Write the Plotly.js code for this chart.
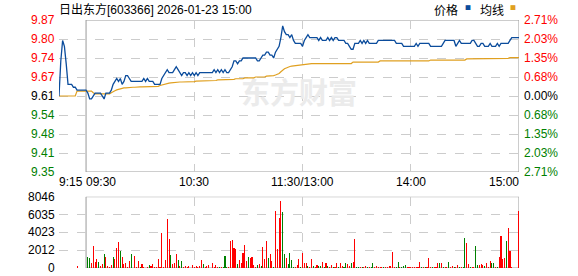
<!DOCTYPE html>
<html><head><meta charset="utf-8">
<script src="https://cdn.plot.ly/plotly-3.0.1.min.js"></script>
<style>html,body{margin:0;padding:0;background:#fff;}#chart{width:578px;height:276px;}</style>
</head><body><div id="chart"></div>
<script>
// ---------- data ----------
const stockTitle = '日出东方[603366] 2026-01-23 15:00';
const legendNames = ['价格', '均线'];
const prevClose = 9.61;

// call auction 09:15 .. 09:29
const prePrice = [9.61,9.73,9.80,9.78,9.72,9.65,9.65,9.65,9.64,9.64,9.63,9.63,9.63,9.63,9.63];
const preAvg   = [9.61,9.61,9.61,9.61,9.61,9.61,9.61,9.61,9.61,9.61,9.627,9.627,9.627,9.627,9.627];
const auctionTime = '09:25';
const auctionVolume = 250;

// continuous session 09:30 .. 11:30, 13:01 .. 15:00 (241 points)
const price = [
9.63,9.62,9.60,9.60,9.61,9.62,9.62,9.62,9.62,9.61,
9.60,9.62,9.62,9.62,9.63,9.65,9.66,9.67,9.66,9.67,
9.65,9.66,9.68,9.68,9.67,9.66,9.66,9.66,9.66,9.66,
9.66,9.66,9.67,9.66,9.67,9.66,9.66,9.66,9.65,9.65,
9.65,9.65,9.67,9.68,9.69,9.70,9.69,9.69,9.69,9.70,
9.71,9.70,9.69,9.68,9.69,9.69,9.68,9.69,9.68,9.69,
9.68,9.69,9.68,9.69,9.69,9.69,9.69,9.69,9.69,9.69,
9.69,9.70,9.69,9.70,9.69,9.70,9.69,9.70,9.69,9.69,
9.70,9.71,9.73,9.73,9.72,9.73,9.73,9.74,9.74,9.74,
9.74,9.74,9.74,9.74,9.74,9.73,9.73,9.74,9.75,9.75,
9.76,9.76,9.75,9.75,9.74,9.76,9.77,9.78,9.81,9.85,
9.83,9.82,9.82,9.81,9.82,9.80,9.79,9.79,9.79,9.79,
9.78,9.80,9.81,9.82,9.81,9.81,9.81,9.81,9.81,9.80,
9.81,9.80,9.80,9.80,9.81,9.80,9.81,9.80,9.81,9.81,
9.80,9.80,9.80,9.80,9.79,9.79,9.78,9.77,9.77,9.79,
9.79,9.79,9.80,9.79,9.80,9.79,9.80,9.79,9.79,9.79,
9.79,9.79,9.80,9.80,9.80,9.80,9.80,9.80,9.80,9.80,
9.80,9.80,9.79,9.79,9.79,9.79,9.78,9.78,9.78,9.78,
9.78,9.78,9.78,9.79,9.78,9.79,9.79,9.79,9.79,9.79,
9.79,9.78,9.78,9.78,9.78,9.78,9.78,9.78,9.79,9.80,
9.80,9.80,9.80,9.80,9.80,9.78,9.79,9.80,9.79,9.79,
9.79,9.79,9.79,9.79,9.80,9.80,9.79,9.78,9.78,9.79,
9.79,9.78,9.78,9.78,9.79,9.78,9.78,9.78,9.79,9.78,
9.79,9.79,9.79,9.79,9.79,9.80,9.81,9.81,9.81,9.81,
9.81];

const avgPrice = [
9.627,9.627,9.627,9.627,9.621,9.617,9.617,9.617,9.617,9.617,
9.617,9.617,9.617,9.617,9.621,9.626,9.628,9.631,9.633,9.636,
9.637,9.638,9.638,9.639,9.640,9.640,9.640,9.640,9.641,9.641,
9.641,9.641,9.641,9.641,9.642,9.642,9.642,9.642,9.643,9.643,
9.643,9.646,9.648,9.650,9.652,9.653,9.654,9.655,9.656,9.657,
9.658,9.658,9.658,9.658,9.658,9.658,9.659,9.659,9.659,9.659,
9.659,9.661,9.661,9.661,9.661,9.661,9.661,9.663,9.663,9.663,
9.663,9.663,9.663,9.665,9.665,9.665,9.665,9.665,9.665,9.667,
9.667,9.667,9.667,9.669,9.669,9.669,9.669,9.669,9.672,9.672,
9.672,9.672,9.672,9.672,9.675,9.675,9.675,9.675,9.675,9.675,
9.678,9.678,9.678,9.678,9.680,9.682,9.684,9.687,9.693,9.699,
9.703,9.706,9.709,9.711,9.712,9.713,9.714,9.715,9.716,9.717,
9.717,9.719,9.720,9.721,9.721,9.721,9.721,9.721,9.721,9.721,
9.721,9.721,9.721,9.721,9.721,9.721,9.721,9.721,9.721,9.721,
9.721,9.721,9.721,9.721,9.721,9.721,9.721,9.721,9.726,9.726,
9.726,9.726,9.726,9.726,9.726,9.726,9.726,9.726,9.726,9.726,
9.726,9.726,9.726,9.730,9.730,9.730,9.730,9.730,9.730,9.730,
9.730,9.730,9.730,9.730,9.730,9.730,9.730,9.730,9.730,9.730,
9.730,9.730,9.730,9.730,9.730,9.730,9.730,9.730,9.730,9.730,
9.730,9.733,9.733,9.733,9.733,9.733,9.733,9.733,9.733,9.733,
9.733,9.733,9.733,9.733,9.733,9.733,9.733,9.733,9.733,9.733,
9.733,9.737,9.737,9.737,9.737,9.737,9.737,9.737,9.737,9.737,
9.737,9.737,9.737,9.737,9.737,9.737,9.739,9.739,9.739,9.739,
9.739,9.739,9.739,9.739,9.739,9.741,9.741,9.741,9.741,9.741,
9.741];

// volume per minute 09:31 .. 15:00 (240 bars)
const volume = [
1280,1150,600,2500,700,1050,700,260,490,1620,
1280,260,150,380,1280,1050,2300,2980,1960,1280,
490,600,75,830,1620,40,1400,150,830,150,
490,75,40,75,380,260,490,75,75,1050,
150,3900,75,940,5570,3300,1500,490,600,1620,
940,260,830,150,260,75,260,40,380,75,
260,150,260,940,490,150,260,380,40,600,
150,380,150,75,75,75,1400,75,150,3100,
3200,2300,2200,490,940,600,1730,2600,830,1280,
1150,1280,380,75,380,490,260,2400,1050,3100,
1150,1620,830,150,6480,2200,5690,7600,6370,1620,
1150,490,1730,940,150,150,380,1050,150,1730,
600,600,260,75,1050,260,150,380,260,260,
700,150,600,260,75,380,150,75,600,75,
600,260,150,600,490,260,600,700,3300,150,
75,150,75,75,260,75,75,75,600,150,
260,
75,75,75,75,75,150,260,260,1850,75,
150,700,75,150,260,380,150,75,75,75,
75,75,75,700,75,75,75,75,1150,75,
75,75,75,600,600,600,150,75,75,700,
75,260,75,75,380,75,75,75,3430,2780,
490,150,75,150,2500,380,380,490,380,260,
600,150,830,600,600,150,150,1280,3660,1050,
1150,3100,4560,1960,75,0,0,0,6480];
// 1 = price up (red), 0 = price down (green)
const rising = [
0,0,1,1,1,1,0,1,1,0,
1,1,1,1,0,1,1,1,0,1,
1,1,1,1,0,1,1,1,1,0,
1,1,0,1,0,1,1,1,1,1,
1,1,1,1,1,1,0,1,1,1,
0,1,0,1,1,1,1,0,1,1,
1,1,1,1,0,1,1,1,0,1,
1,1,1,0,1,0,0,0,1,1,
1,1,1,0,1,1,1,1,1,0,
1,1,1,1,0,1,0,1,1,1,
0,1,1,0,1,1,1,1,0,0,
1,0,0,0,0,1,1,1,0,1,
1,1,0,1,1,0,1,1,0,0,
1,0,1,0,1,1,0,1,1,0,
1,1,0,0,1,1,0,1,1,0,
0,1,0,1,1,0,1,0,0,1,
1,
1,1,1,0,1,1,1,1,1,1,
0,0,1,0,0,0,1,1,1,1,
1,1,1,1,0,1,0,1,1,1,
0,1,1,1,0,1,0,1,1,0,
1,1,0,1,1,0,1,0,0,1,
1,0,1,1,0,0,1,1,1,0,
1,1,1,0,0,1,0,1,1,1,
1,0,1,1,1,1,1,1,1];

const priceTickVals = [9.87,9.805,9.74,9.675,9.61,9.545,9.48,9.415,9.35];
const priceTickText = ['9.87','9.80','9.74','9.67','9.61','9.54','9.48','9.41','9.35'];
const pctTickText   = ['2.71%','2.03%','1.35%','0.68%','0.00%','0.68%','1.35%','2.03%','2.71%'];
const volTickVals = [0,2012,4023,6035,8046];
const volTickText = ['0','2012','4023','6035','8046'];
const timeTickLabels = ['9:15','09:30','10:30','11:30/13:00','14:00','15:00'];
const timeTickAt     = ['09:15','09:30','10:30','11:30','14:00','15:00'];

// ---------- helpers ----------
function pad(n){return (n<10?'0':'')+n;}
function minutes(h1,m1,h2,m2){const out=[];for(let t=h1*60+m1;t<=h2*60+m2;t++)out.push(pad(Math.floor(t/60))+':'+pad(t%60));return out;}
const preTimes = minutes(9,15,9,29);
const mainTimes = minutes(9,30,11,30).concat(minutes(13,1,15,0));
const volTimes = mainTimes.slice(1);
function toX(t){const [h,m]=t.split(':').map(Number);let v=h*60+m-555;if(h*60+m>=780)v-=90;return v;}

const RED='#ff0000', GREEN='#008000', BLACK='#000000';
const FONT='Liberation Sans, Arial, Noto Sans CJK SC, sans-serif';
const GRID='#cccccc';

const allTimes = preTimes.concat(mainTimes);
const xs = allTimes.map(toX);
const traces = [
  {x:[133], y:[9.607], mode:'text', text:['东方财富'], xaxis:'x', yaxis:'y', hoverinfo:'skip',
   textfont:{family:'Noto Sans CJK SC', size:29, color:'#ebebeb', weight:700}, showlegend:false},
  {x:xs, y:preAvg.concat(avgPrice), mode:'lines', line:{color:'#e0a020', width:1.2}, xaxis:'x', yaxis:'y', name:legendNames[1], hoverinfo:'skip'},
  {x:xs, y:prePrice.concat(price), mode:'lines', line:{color:'#0b4c9c', width:1.3}, xaxis:'x', yaxis:'y', name:legendNames[0], hoverinfo:'skip'},
  {type:'bar', x:[toX(auctionTime)].concat(volTimes.map(toX)), y:[auctionVolume].concat(volume),
   marker:{color:[RED].concat(rising.map(r=>r?RED:GREEN)), line:{width:0}}, width:0.6, xaxis:'x2', yaxis:'y2', hoverinfo:'skip'}
];

const PRICE_DOM=[0.387,1], VOL_DOM=[0,0.2875];
const anns = [];
function ann(o){anns.push(Object.assign({showarrow:false, font:{family:FONT,size:12,color:BLACK}}, o));}

ann({text:stockTitle, xref:'paper', yref:'paper', x:0, y:1, xanchor:'left', yanchor:'middle', xshift:-2, yshift:11,
     font:{family:'Liberation Sans, Noto Sans CJK SC', size:12, color:BLACK}});
ann({text:legendNames[0], xref:'paper', yref:'paper', x:0.811, y:1, xanchor:'left', yanchor:'middle', yshift:11,
     font:{family:'Noto Sans CJK SC', size:12, color:BLACK}});
ann({text:'■', xref:'paper', yref:'paper', x:0.8783, y:1, xanchor:'left', yanchor:'middle', yshift:13,
     font:{family:'Noto Sans CJK SC', size:6, color:'#0b4c9c'}});
ann({text:legendNames[1], xref:'paper', yref:'paper', x:0.911, y:1, xanchor:'left', yanchor:'middle', yshift:11,
     font:{family:'Noto Sans CJK SC', size:12, color:BLACK}});
ann({text:'■', xref:'paper', yref:'paper', x:0.9761, y:1, xanchor:'left', yanchor:'middle', yshift:13,
     font:{family:'Noto Sans CJK SC', size:6, color:'#e0a020'}});

priceTickVals.forEach((v,i)=>{
  const c = v>prevClose+1e-9?RED:(v<prevClose-1e-9?GREEN:BLACK);
  ann({text:priceTickText[i], xref:'paper', yref:'y', x:0, y:v, xanchor:'right', yanchor:'middle', xshift:-2, font:{family:FONT,size:12,color:c}});
  ann({text:pctTickText[i], xref:'paper', yref:'y', x:1, y:v, xanchor:'left', yanchor:'middle', xshift:3, font:{family:FONT,size:12,color:c}});
});
volTickVals.forEach((v,i)=>{
  ann({text:volTickText[i], xref:'paper', yref:'y2', x:0, y:v, xanchor:'right', yanchor:'middle', xshift:-2});
});
timeTickLabels.forEach((t,i)=>{
  const xa = i===0||i===1?'left':(i===timeTickLabels.length-1?'right':'center');
  ann({text:t, xref:'x', yref:'paper', x:toX(timeTickAt[i]), y:PRICE_DOM[0], xanchor:xa, yanchor:'top', yshift:-1,
       xshift: xa==='left'?-2:(xa==='right'?2:0)});
});

const gridX = ['09:15','10:30','11:30','14:00'].map(toX);
const xCommon = {range:[0,255], tickvals:gridX, showticklabels:false, ticks:'', showgrid:true, gridcolor:GRID, griddash:'dash', gridwidth:1, zeroline:false, showline:false, fixedrange:true};
const layout = {
  width:578, height:276, margin:{l:59, r:59, t:20, b:8}, paper_bgcolor:'#fff', plot_bgcolor:'#fff',
  showlegend:false, bargap:0,
  xaxis:Object.assign({anchor:'y'}, xCommon),
  xaxis2:Object.assign({anchor:'y2'}, xCommon),
  yaxis:{domain:PRICE_DOM, range:[9.35,9.87], tickvals:priceTickVals, showticklabels:false, ticks:'', showgrid:true, gridcolor:GRID, griddash:'dash', zeroline:false, showline:false},
  yaxis2:{domain:VOL_DOM, range:[0,8046], tickvals:volTickVals, showticklabels:false, ticks:'', showgrid:true, gridcolor:GRID, griddash:'dash', zeroline:false, showline:false},
  shapes:[
    {type:'rect', xref:'x', yref:'y', x0:toX('09:30'), x1:toX('15:00'), y0:9.35, y1:9.87, line:{color:'#999999', width:1}, layer:'below'},
    {type:'rect', xref:'x2', yref:'y2', x0:toX('09:30'), x1:toX('15:00'), y0:0, y1:8046, line:{color:'#999999', width:1}, layer:'below'}
  ],
  annotations:anns
};
Plotly.newPlot('chart', traces, layout, {staticPlot:true, displayModeBar:false});
</script></body></html>
